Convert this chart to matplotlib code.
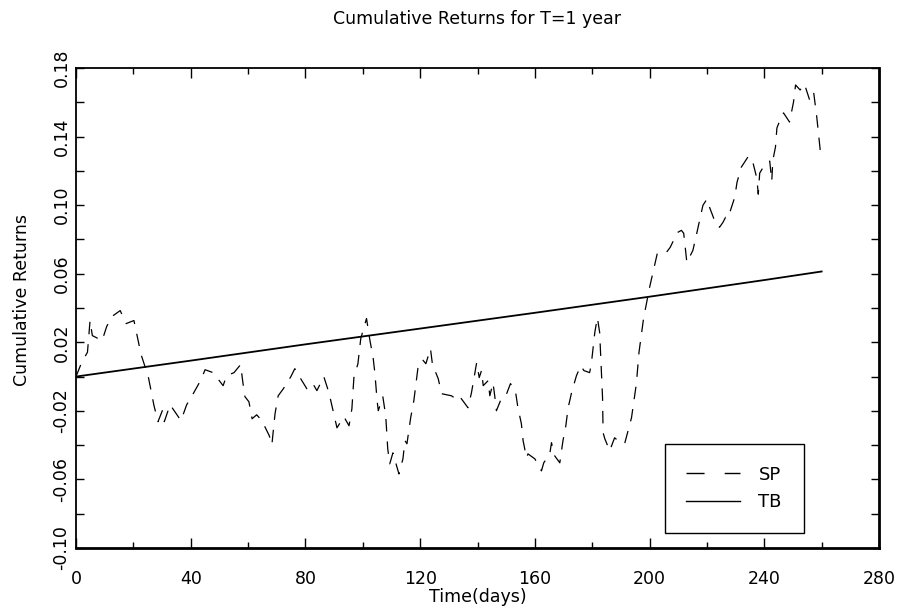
import matplotlib
matplotlib.use("Agg")
import matplotlib.pyplot as plt
from matplotlib.lines import Line2D
from matplotlib.ticker import FixedLocator, MultipleLocator

# S&P cumulative returns (day, value)
sp_days = [0, 2.0, 4.0, 4.9, 5.7, 9.1, 10.7, 12.5, 15.4, 17.5, 20.2, 22.7, 25.2, 27.2,
           28.6, 30.1, 30.8, 32.8, 36.6, 38.6, 40.3, 43.6, 45.0, 47.8, 51.3, 52.5, 55.1,
           57.4, 58.2, 58.9, 60.3, 61.4, 63.0, 64.8, 67.4, 68.3, 69.4, 70.5, 72.3, 74.9,
           76.3, 77.7, 80.5, 82.2, 83.0, 84.0, 86.4, 88.2, 91.0, 93.4, 95.2, 96.2, 96.9,
           98.3, 99.3, 101.3, 102.5, 103.6, 104.2, 105.0, 105.4, 107.0, 108.0, 108.7,
           109.4, 110.5, 112.6, 114.0, 114.7, 115.4, 116.7, 117.8, 119.2, 120.8, 122.0,
           123.6, 124.3, 126.3, 127.5, 130.9, 132.4, 133.6, 136.7, 137.9, 139.7, 140.6,
           141.4, 142.0, 143.7, 144.3, 145.4, 146.0, 146.6, 148.0, 149.5, 151.5, 153.2,
           154.1, 155.3, 155.9, 157.1, 157.6, 160.0, 162.3, 163.1, 165.2, 165.8, 166.9,
           168.7, 169.8, 170.8, 171.6, 172.8, 174.5, 176.0, 177.1, 179.1, 179.7, 180.3,
           180.9, 181.8, 182.6, 182.9, 183.2, 183.6, 183.8, 184.4, 186.1, 187.8, 189.0,
           191.3, 193.7, 195.4, 196.3, 197.9, 200.0, 201.5, 202.7, 205.9, 207.2, 208.7,
           209.8, 211.1, 211.9, 213.0, 215.1, 216.3, 218.6, 220.0, 220.9, 223.3, 224.4,
           225.6, 226.5, 227.3, 229.7, 230.5, 232.0, 234.5, 236.0, 237.4, 237.9, 238.4,
           240.1, 241.9, 242.6, 243.0, 243.9, 244.4, 245.9, 246.7, 248.8, 250.2, 250.9,
           252.5, 254.0, 255.8, 257.2, 258.3, 259.5]
sp_vals = [0.000, 0.0083, 0.0142, 0.0327, 0.0239, 0.0210, 0.0292, 0.0350, 0.0385, 0.0309,
           0.0327, 0.0128, 0.000, -0.0170, -0.0263, -0.0199, -0.0263, -0.0164, -0.0257,
           -0.0164, -0.0117, -0.0018, 0.0040, 0.0023, -0.0053, 0.0005, 0.0023, 0.0070,
           -0.0036, -0.0117, -0.0147, -0.0246, -0.0223, -0.0257, -0.0345, -0.0398, -0.0217,
           -0.0112, -0.0071, -0.0001, 0.0046, 0.0005, -0.0071, -0.0082, -0.0053, -0.0082,
           0.000, -0.0094, -0.0299, -0.0234, -0.0287, -0.0188, -0.0006, 0.0075, 0.0222,
           0.0339, 0.0210, 0.0111, 0.0023, -0.0141, -0.0199, -0.0118, -0.0229, -0.0421,
           -0.0509, -0.0445, -0.0568, -0.0480, -0.0374, -0.0392, -0.0240, -0.0141, 0.0046,
           0.0099, 0.0075, 0.0163, 0.0070, -0.0012, -0.0100, -0.0112, -0.0129, -0.0112,
           -0.0182, -0.0094, 0.0081, -0.0006, 0.0035, -0.0053, -0.0024, -0.0112, -0.0036,
           -0.0112, -0.0199, -0.0141, -0.0129, -0.0041, -0.0082, -0.0182, -0.0275, -0.0374,
           -0.0474, -0.0451, -0.0480, -0.0550, -0.0503, -0.0451, -0.0386, -0.0462, -0.0503,
           -0.0374, -0.0287, -0.0182, -0.0094, 0.0005, 0.0064, 0.0035, 0.0023, 0.0075,
           0.0169, 0.0257, 0.0344, 0.0257, 0.0140, 0.0035, -0.0123, -0.0328, -0.0363,
           -0.0433, -0.0357, -0.0374, -0.0392, -0.0240, -0.0041, 0.0140, 0.0339, 0.0520,
           0.0631, 0.0719, 0.0725, 0.0754, 0.0806, 0.0841, 0.0853, 0.0836, 0.0666, 0.0736,
           0.0824, 0.0999, 0.1035, 0.0988, 0.0882, 0.0871, 0.0900, 0.0929, 0.0923, 0.1046,
           0.1134, 0.1222, 0.1286, 0.1251, 0.1157, 0.1064, 0.1187, 0.1234, 0.1257, 0.1140,
           0.1263, 0.1339, 0.1450, 0.1514, 0.1538, 0.1485, 0.1602, 0.1701, 0.1672, 0.1707,
           0.1614, 0.1660, 0.1514, 0.1321]

# T-bill cumulative returns
tb_days = [0, 40, 80, 120, 160, 200, 240, 260]
tb_vals = [0.0, 0.0093, 0.0188, 0.0280, 0.0372, 0.0466, 0.0563, 0.0613]

xtick_vals = [0, 40, 80, 120, 160, 200, 240, 280]
ytick_vals = [-0.10, -0.06, -0.02, 0.02, 0.06, 0.10, 0.14, 0.18]
ytick_labels = ['-0.10', '-0.06', '-0.02', '0.02', '0.06', '0.10', '0.14', '0.18']

fs = 12.5
fig = plt.figure(figsize=(9.01, 6.12), dpi=100)
ax = fig.add_axes([76 / 901, 64 / 612, 803 / 901, 480 / 612])

ax.plot(sp_days, sp_vals, color='black', lw=0.9, dashes=(10, 8))
ax.plot(tb_days, tb_vals, color='black', lw=1.3)

ax.set_xlim(0, 280)
ax.set_ylim(-0.10, 0.18)
ax.xaxis.set_major_locator(FixedLocator(xtick_vals))
ax.xaxis.set_minor_locator(MultipleLocator(20))
ax.set_xticklabels([str(v) for v in xtick_vals], fontsize=fs)
ax.yaxis.set_major_locator(FixedLocator(ytick_vals))
ax.yaxis.set_minor_locator(FixedLocator([v + 0.02 for v in ytick_vals[:-1]]))
ax.set_yticklabels(ytick_labels, fontsize=fs, rotation=90, va='center')

ax.tick_params(which='both', direction='in', top=True, right=True, color='black')
ax.tick_params(axis='x', which='major', length=7, width=1, pad=16)
ax.tick_params(axis='x', which='minor', length=4, width=1)
ax.tick_params(axis='y', which='both', length=6, width=1, pad=4)

for side in ['left', 'top']:
    ax.spines[side].set_linewidth(1.3)
ax.spines['bottom'].set_linewidth(2.0)
ax.spines['right'].set_linewidth(2.0)

fig.text(477 / 901, 1 - 19 / 612, 'Cumulative Returns for T=1 year',
         ha='center', va='center', fontsize=fs)
fig.text(478 / 901, 1 - 597 / 612, 'Time(days)',
         ha='center', va='center', fontsize=fs)
fig.text(22 / 901, 1 - 300 / 612, 'Cumulative Returns', rotation=90,
         ha='center', va='center', fontsize=fs)

handles = [Line2D([], [], color='black', lw=1.0, dashes=(13, 14.5)),
           Line2D([], [], color='black', lw=1.0)]
leg = ax.legend(handles, ['SP', 'TB'], loc='lower left',
                bbox_to_anchor=(0.733, 0.031), fontsize=fs + 0.5,
                frameon=True, fancybox=False, shadow=False, framealpha=1,
                edgecolor='black', handlelength=3.0, handletextpad=1.0,
                borderpad=1.2, labelspacing=0.55, borderaxespad=0)
leg.get_frame().set_linewidth(1.0)

fig.savefig('out.png', dpi=100)
